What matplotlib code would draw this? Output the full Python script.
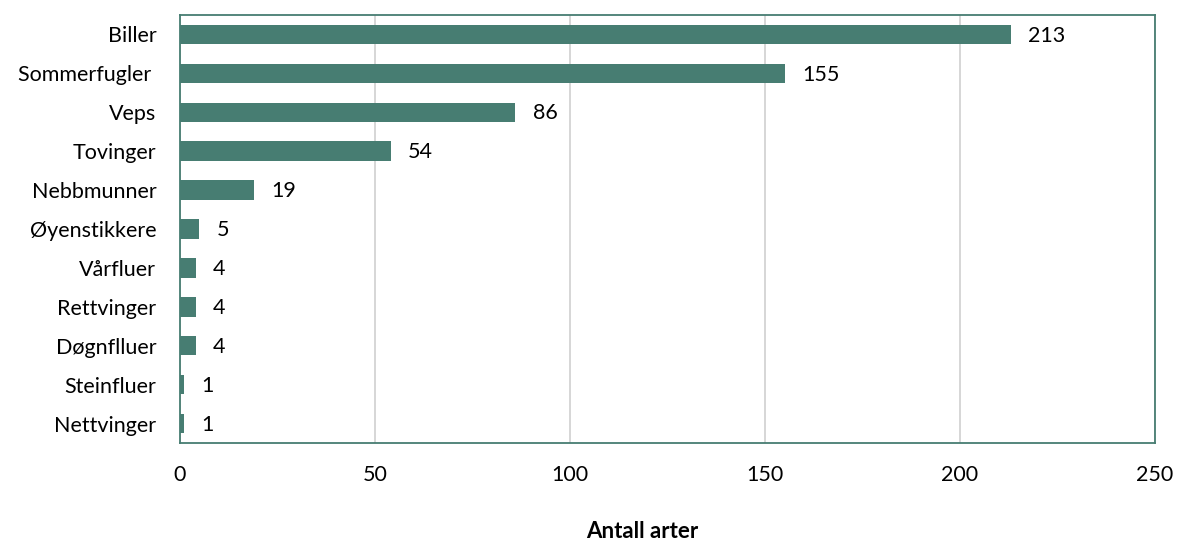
import matplotlib
matplotlib.use("Agg")
from matplotlib import pyplot as plt

categories = ["Biller", "Sommerfugler ", "Veps", "Tovinger", "Nebbmunner",
              "Øyenstikkere", "Vårfluer", "Rettvinger", "Døgnflluer",
              "Steinfluer", "Nettvinger"]
counts = [213, 155, 86, 54, 19, 5, 4, 4, 4, 1, 1]
xticks = [0, 50, 100, 150, 200, 250]

COLOR = "#477d72"

plt.rcParams["font.family"] = ["Lato", "DejaVu Sans"]

fig = plt.figure(figsize=(11.78, 5.43), dpi=100)
ax = fig.add_axes([0.1528, 0.1842, 0.8277, 0.7882])

pos = list(range(len(categories)))
ax.barh(pos, counts, height=0.5, color=COLOR, zorder=3)
for p, v in zip(pos, counts):
    ax.text(v + 4.5, p + 0.03, str(v), va="center", ha="left", fontsize=15.5, color="black")

ax.set_yticks(pos)
ax.set_yticklabels(categories, fontsize=15.5)
ax.set_ylim(len(categories) - 0.5, -0.5)
ax.set_xlim(0, 250)
ax.set_xticks(xticks)
ax.set_xticklabels([str(t) for t in xticks], fontsize=15.5)
ax.tick_params(length=0)
ax.tick_params(axis="y", pad=17)
ax.tick_params(axis="x", pad=16)
ax.xaxis.grid(True, color="#d0d0d0", linewidth=1.2, zorder=0)
for s in ax.spines.values():
    s.set_color(COLOR)
    s.set_linewidth(1.3)

fig.text(0.545, 0.022, "Antall arter", fontsize=16, fontweight="bold",
         ha="center", va="center")

fig.savefig("out.png", dpi=100)
plt.close(fig)
